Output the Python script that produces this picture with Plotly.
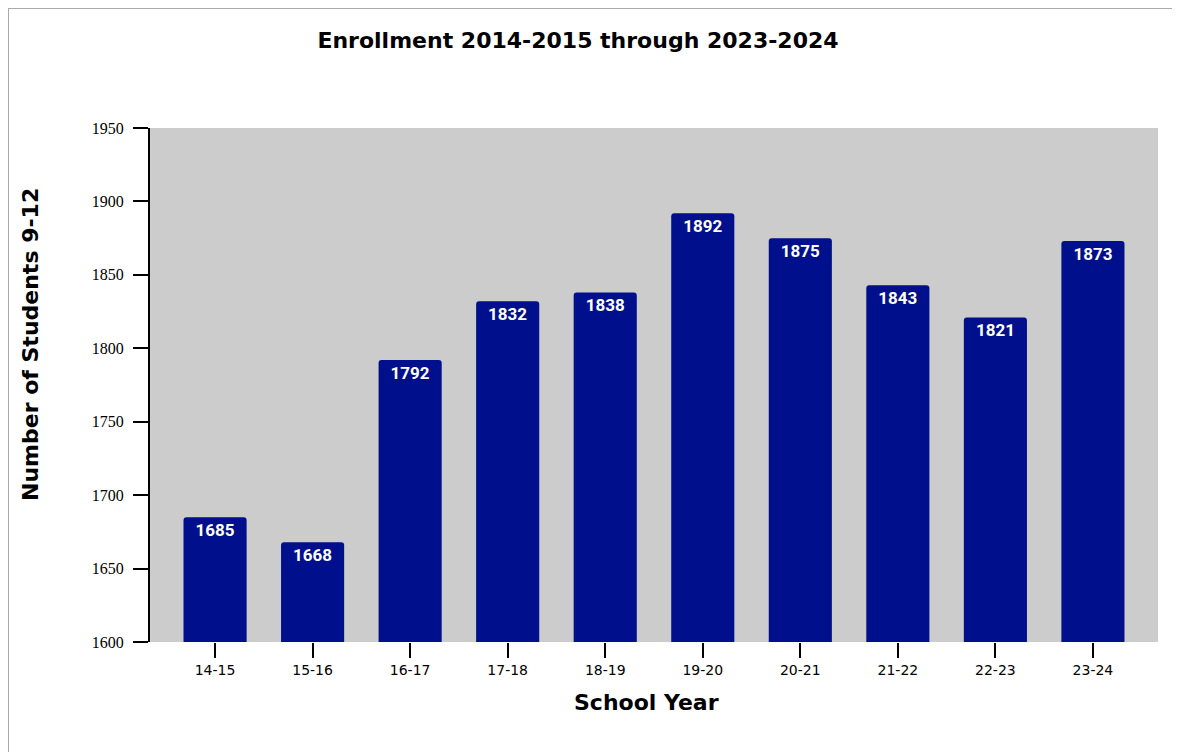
import plotly.graph_objects as go

years = ["14-15", "15-16", "16-17", "17-18", "18-19", "19-20", "20-21", "21-22", "22-23", "23-24"]
enrollment = [1685, 1668, 1792, 1832, 1838, 1892, 1875, 1843, 1821, 1873]
y_ticks = [1600, 1650, 1700, 1750, 1800, 1850, 1900, 1950]

W, H = 1180, 752
L, R, T, B = 142, 30, 120, 118
pw, ph = W - L - R, H - T - B

fig = go.Figure(go.Bar(
    x=years, y=enrollment,
    marker=dict(color="#000f8c", cornerradius=3, line=dict(width=0)),
    text=[str(v) for v in enrollment],
    textposition="inside", insidetextanchor="end",
    textangle=0,
    textfont=dict(family="Roboto", size=17, color="white", weight="bold"),
    cliponaxis=False,
))

fig.update_layout(
    width=W, height=H,
    margin=dict(l=L, r=R, t=T, b=B),
    paper_bgcolor="white", plot_bgcolor="#cccccc",
    bargap=0.353,
    showlegend=False,
    title=dict(text="<b>Enrollment 2014-2015 through 2023-2024</b>",
               x=570 / W, xanchor="center", y=1 - 32 / H, yanchor="middle",
               font=dict(family="DejaVu Sans", size=22, color="black")),
    uniformtext=dict(minsize=14, mode="show"),
)
fig.update_yaxes(
    range=[1600, 1950], tickvals=y_ticks, showgrid=False, zeroline=False,
    showline=True, linecolor="black", linewidth=2,
    ticks="outside", ticklen=15, tickwidth=2, tickcolor="black",
    ticklabelstandoff=6,
    tickfont=dict(family="Liberation Serif", size=16, color="black"),
)
fig.update_xaxes(
    range=[-0.667, 9.667],
    showgrid=False, showline=False,
    ticks="outside", ticklen=15, tickwidth=2, tickcolor="black",
    tickfont=dict(family="DejaVu Sans", size=14, color="black"),
)
# axis titles as annotations (positioned like the reference)
fig.add_annotation(text="<b>Number of Students 9-12</b>", textangle=-90,
                   xref="paper", yref="paper", x=(22 - L) / pw, y=(H - B - 337) / ph,
                   xanchor="center", yanchor="middle", showarrow=False,
                   font=dict(family="DejaVu Sans", size=22, color="black"))
fig.add_annotation(text="<b>School Year</b>",
                   xref="paper", yref="paper", x=(638 - L) / pw, y=(H - B - 694) / ph,
                   xanchor="center", yanchor="middle", showarrow=False,
                   font=dict(family="DejaVu Sans", size=22, color="black"))
# page frame
fig.add_shape(type="rect", xref="paper", yref="paper",
              x0=(0 - L) / pw, x1=(W + 20 - L) / pw,
              y0=(H - B - (H + 20)) / ph, y1=(H - B - 0) / ph,
              line=dict(color="#aaaaaa", width=2), fillcolor="rgba(0,0,0,0)", layer="below")

fig.write_html("out.html")
